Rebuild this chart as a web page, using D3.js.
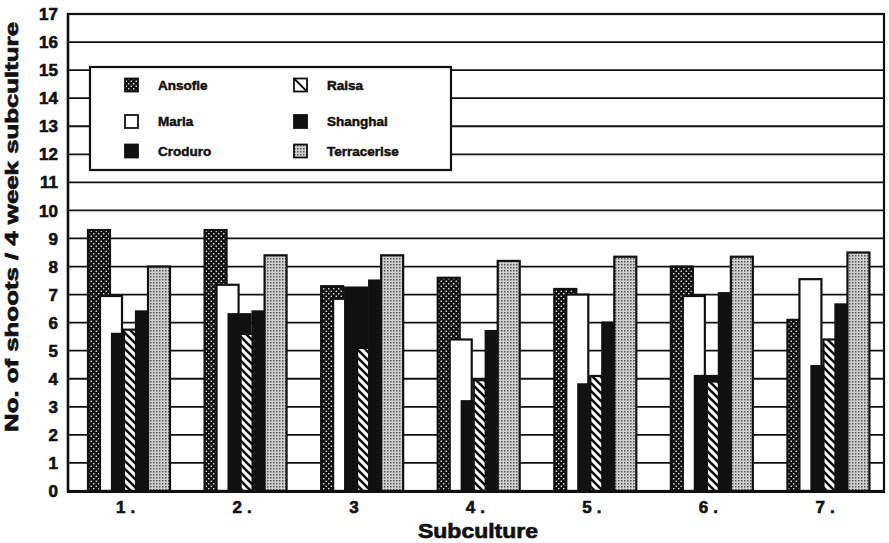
<!DOCTYPE html>
<html lang="en">
<head>
<meta charset="UTF-8">
<title>Shoots per subculture</title>
<script src="https://cdn.jsdelivr.net/npm/d3@7"></script>
<style>
  body { margin: 0; background: #fff; }
  text { font-family: "Liberation Sans", Arial, Helvetica, sans-serif; font-weight: bold; fill: #111; stroke: #111; }
</style>
</head>
<body>
<svg id="chart" width="889" height="543"></svg>
<script>
// subcultures on the x axis
var groups = ["1.", "2.", "3", "4.", "5.", "6.", "7."];
var cultivars = ["Ansofie", "Maria", "Croduro", "Raisa", "Shanghai", "Terracerise"];

// no. of shoots per 4 week subculture
var ansofie     = [9.3, 9.3, 7.3, 7.6, 7.2, 8.0, 6.1];
var maria       = [6.95, 7.35, 6.85, 5.4, 7.0, 6.95, 7.55];
var croduro     = [5.6, 6.3, 7.25, 3.2, 3.8, 4.1, 4.45];
var raisa       = [5.75, 5.6, 5.1, 3.95, 4.1, 3.9, 5.4];
var shanghai    = [6.4, 6.4, 7.5, 5.7, 6.0, 7.05, 6.65];
var terracerise = [8.0, 8.4, 8.4, 8.2, 8.35, 8.35, 8.5];

var yTicks = d3.range(0, 18);

var series = [ansofie, maria, croduro, raisa, shanghai, terracerise];
var fills = ["url(#checker)", "#fff", "#111", "url(#hatch)", "#111", "url(#stipple)"];

var svg = d3.select("#chart");
svg.append("rect").attr("width", 889).attr("height", 543).attr("fill", "#fff");

// patterns
var defs = svg.append("defs");
var p1 = defs.append("pattern").attr("id", "checker").attr("patternUnits", "userSpaceOnUse")
    .attr("width", 5).attr("height", 5);
p1.append("rect").attr("width", 5).attr("height", 5).attr("fill", "#111");
p1.append("circle").attr("cx", 1.25).attr("cy", 1.25).attr("r", 0.8).attr("fill", "#fff");
p1.append("circle").attr("cx", 3.75).attr("cy", 3.75).attr("r", 0.8).attr("fill", "#fff");

var p2 = defs.append("pattern").attr("id", "hatch").attr("patternUnits", "userSpaceOnUse")
    .attr("width", 8).attr("height", 8);
p2.append("rect").attr("width", 8).attr("height", 8).attr("fill", "#fff");
p2.append("path").attr("d", "M-2,-2L10,10M-2,6L2,10M6,-2L10,2")
    .attr("stroke", "#111").attr("stroke-width", 2.6);

var p3 = defs.append("pattern").attr("id", "stipple").attr("patternUnits", "userSpaceOnUse")
    .attr("width", 3).attr("height", 3);
p3.append("rect").attr("width", 3).attr("height", 3).attr("fill", "#d0d0d0");
p3.append("rect").attr("width", 1.5).attr("height", 1.5).attr("fill", "#555");

// scales
var x = d3.scaleBand().domain(groups).range([68, 884]);
var x1 = d3.scaleBand().domain(cultivars).range([0, 72]);
var barW = 22;
var y = d3.scaleLinear().domain([0, 17]).range([491, 14]);

// grid
svg.append("g").selectAll("line")
    .data(yTicks.filter(function(d) { return d > 0 && d < 17; }))
    .enter().append("line")
    .attr("x1", 68).attr("x2", 884)
    .attr("y1", function(d) { return y(d); })
    .attr("y2", function(d) { return y(d); })
    .attr("stroke", "#111").attr("stroke-width", 1.8);

// bars, later cultivars drawn over the earlier ones
var barsG = svg.append("g");
cultivars.forEach(function(c, i) {
    barsG.append("g").selectAll("rect")
        .data(series[i])
        .enter().append("rect")
        .attr("x", function(d, j) { return x(groups[j]) + 20 + x1(c); })
        .attr("y", function(d) { return y(d); })
        .attr("width", barW)
        .attr("height", function(d) { return y(0) - y(d); })
        .attr("fill", fills[i])
        .attr("stroke", "#111").attr("stroke-width", 2.2);
});

// frame
svg.append("rect").attr("x", 68).attr("y", 14).attr("width", 816).attr("height", 477)
    .attr("fill", "none").attr("stroke", "#111").attr("stroke-width", 2.2);
svg.append("line").attr("x1", 67).attr("x2", 885).attr("y1", 491.5).attr("y2", 491.5)
    .attr("stroke", "#111").attr("stroke-width", 3);
svg.append("line").attr("x1", 68).attr("x2", 68).attr("y1", 14).attr("y2", 492)
    .attr("stroke", "#111").attr("stroke-width", 2.5);

// y tick labels
svg.append("g").selectAll("text")
    .data(yTicks)
    .enter().append("text")
    .attr("x", 58)
    .attr("y", function(d) { return y(d); })
    .attr("dy", "0.36em")
    .attr("text-anchor", "end")
    .style("font-size", "17px")
    .style("stroke-width", "0.6px")
    .text(function(d) { return d; });

// x tick labels
svg.append("g").selectAll("text")
    .data(groups)
    .enter().append("text")
    .attr("x", function(d) { return x(d) + 20 + 41 - 13; })
    .attr("y", 513)
    .style("font-size", "17px")
    .style("stroke-width", "0.6px")
    .style("letter-spacing", "5px")
    .text(function(d) { return d; });

// axis titles
svg.append("text")
    .attr("x", 418).attr("y", 538)
    .attr("textLength", 120).attr("lengthAdjust", "spacingAndGlyphs")
    .style("font-size", "21px")
    .style("stroke-width", "0.7px")
    .text("Subculture");

svg.append("text")
    .attr("transform", "translate(17.5,227) rotate(-90)")
    .attr("text-anchor", "middle")
    .attr("textLength", 410).attr("lengthAdjust", "spacingAndGlyphs")
    .style("font-size", "19px")
    .style("stroke-width", "0.7px")
    .text("No. of shoots / 4 week subculture");

// legend
var lg = svg.append("g");
lg.append("rect").attr("x", 90).attr("y", 67).attr("width", 361).attr("height", 103)
    .attr("fill", "#fff").attr("stroke", "#111").attr("stroke-width", 2.2);
var rowsY = [85, 121.5, 151];
var item = lg.selectAll("g.item")
    .data(cultivars)
    .enter().append("g")
    .attr("class", "item")
    .attr("transform", function(d, i) {
        return "translate(" + (i < 3 ? 125 : 294) + "," + rowsY[i % 3] + ")";
    });
item.append("rect")
    .attr("x", 0).attr("y", -6.5).attr("width", 13).attr("height", 13)
    .attr("fill", function(d, i) { return i == 3 ? "#fff" : fills[i]; })
    .attr("stroke", "#111").attr("stroke-width", 1.8);
item.filter(function(d, i) { return i == 3; }).append("line")
    .attr("x1", 0).attr("y1", -6.5).attr("x2", 13).attr("y2", 6.5)
    .attr("stroke", "#111").attr("stroke-width", 1.8);
item.append("text")
    .attr("x", 33).attr("dy", "0.36em")
    .style("font-size", "13.5px")
    .style("stroke-width", "0.5px")
    .text(function(d) { return d; });
</script>
</body>
</html>
